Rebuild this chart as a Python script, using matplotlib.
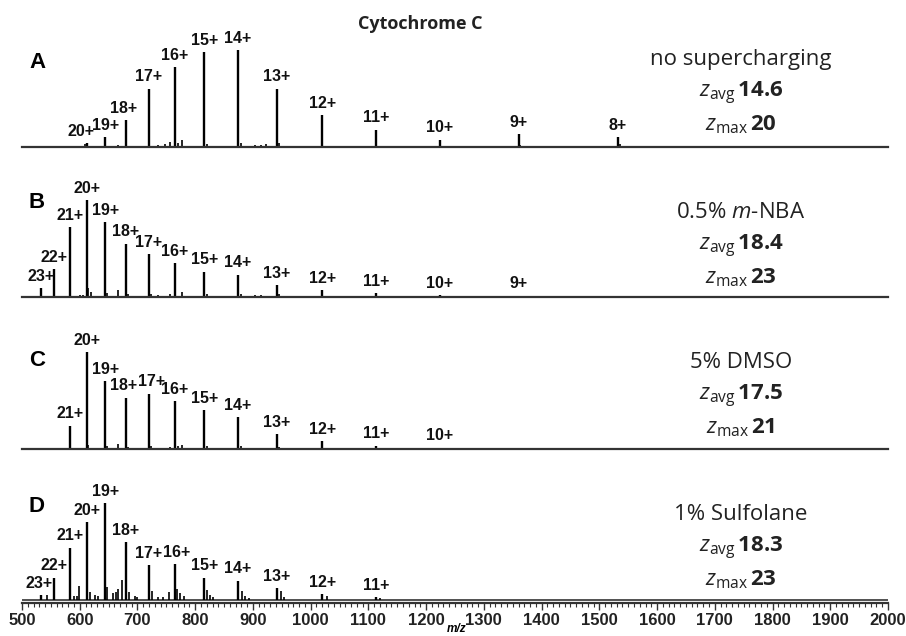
import matplotlib
matplotlib.use("Agg")
import matplotlib.pyplot as plt
from matplotlib.ticker import MultipleLocator

plt.rcParams["mathtext.fontset"] = "custom"
plt.rcParams["mathtext.rm"] = "Open Sans"
plt.rcParams["mathtext.it"] = "Open Sans:italic"
plt.rcParams["mathtext.bf"] = "Open Sans:bold"

# charge state -> m/z
charges = [23, 22, 21, 20, 19, 18, 17, 16, 15, 14, 13, 12, 11, 10, 9, 8]
peak_mz = [533, 555, 583, 612, 644, 680, 720, 765, 816, 874, 941, 1020, 1113, 1224, 1360, 1532]

# relative intensity (%) of the labelled charge states
a_charges = [20, 19, 18, 17, 16, 15, 14, 13, 12, 11, 10, 9, 8]
a_int = [4, 10, 28, 60, 82, 98, 100, 60, 33, 18, 7.5, 13, 10]
b_charges = [23, 22, 21, 20, 19, 18, 17, 16, 15, 14, 13, 12, 11, 10, 9]
b_int = [9, 29, 72, 100, 77, 55, 44, 35, 26, 23, 12, 7, 4, 2, 1.5]
c_charges = [21, 20, 19, 18, 17, 16, 15, 14, 13, 12, 11, 10]
c_int = [24, 100, 70, 53, 57, 49, 40, 33, 15, 8, 3.5, 1.5]
d_charges = [23, 22, 21, 20, 19, 18, 17, 16, 15, 14, 13, 12, 11]
d_int = [5, 23, 54, 80, 100, 60, 36, 37, 23, 20, 12, 6, 3]

# small unlabelled peaks (adducts etc.)
a_minor_mz = [609, 667, 736, 748, 756, 771, 777, 820, 880, 903, 914, 922, 946, 1363, 1535]
a_minor_int = [3, 2, 2.5, 3, 5, 4, 7, 3, 4, 2, 2.5, 3, 4, 2.5, 3]
b_minor_mz = [600, 606, 615, 619, 648, 667, 684, 724, 736, 756, 777, 820, 880, 903, 914, 946]
b_minor_int = [2, 2, 9, 5, 4, 7, 3, 3, 2, 3, 5, 3, 3, 2, 2, 3]
c_minor_mz = [615, 648, 667, 684, 724, 756, 771, 777, 820, 880, 946]
c_minor_int = [4, 3, 5, 2, 3, 2, 3, 4, 3, 3, 2]
d_minor_mz = [543, 590, 596, 599, 617, 626, 632, 648, 658, 663, 667, 673, 685, 696, 700,
              725, 735, 745, 755, 769, 774, 780, 820, 825, 831, 881, 886, 893, 949, 954,
              1028, 1120]
d_minor_int = [5, 4, 4, 14, 8, 5, 4, 13, 7, 8, 11, 21, 8, 4, 3,
               9, 3, 3, 8, 11, 7, 4, 10, 5, 3, 9, 4, 2, 9, 3,
               4.5, 2]

panel_letters = ["A", "B", "C", "D"]
conditions = ["no supercharging", "0.5% $\\mathit{m}$-NBA", "5% DMSO", "1% Sulfolane"]
z_avg = ["14.6", "18.4", "17.5", "18.3"]
z_max = ["20", "23", "21", "23"]

panels = [
    (a_charges, a_int, a_minor_mz, a_minor_int),
    (b_charges, b_int, b_minor_mz, b_minor_int),
    (c_charges, c_int, c_minor_mz, c_minor_int),
    (d_charges, d_int, d_minor_mz, d_minor_int),
]

# label nudges (points) where the reference shifts a label sideways
nudge = {(0, 20): -4, (0, 18): -1.5, (3, 23): -1.5, (3, 16): 1.5,
         (2, 18): -2, (2, 17): 1.5}

W, H = 906, 636
fig = plt.figure(figsize=(W / 100, H / 100), dpi=100)

baselines = [147, 297, 449, 600]      # pixel rows of the spectrum baselines
cond_y = [60, 213, 363, 515]
letter_y = [63, 203, 360, 507]
left, right = 22, 888
peak_h = 97

mz_of = dict(zip(charges, peak_mz))

for i, (chs, ints, mmz, mint) in enumerate(panels):
    last = i == 3
    if last:
        bottom_px = baselines[i] + 3
        ax = fig.add_axes([left / W, 1 - bottom_px / H, (right - left) / W, (peak_h + 3) / H])
        ax.set_ylim(-3, 100)
        ax.axhline(0, color="#333333", lw=1.2)
    else:
        ax = fig.add_axes([left / W, 1 - baselines[i] / H, (right - left) / W, peak_h / H])
        ax.set_ylim(0, 100)
    ax.set_xlim(500, 2000)
    ax.patch.set_alpha(0)
    for s in ["top", "left", "right"]:
        ax.spines[s].set_visible(False)
    ax.spines["bottom"].set_color("#333333")
    ax.spines["bottom"].set_linewidth(1.6)
    ax.set_yticks([])

    xs = [mz_of[c] for c in chs]
    ax.vlines(mmz, 0, mint, color="black", lw=1.2)
    ax.vlines(xs, 0, ints, color="black", lw=1.7)
    for c, x, y in zip(chs, xs, ints):
        ax.annotate(f"{c}+", (x, y), xytext=(nudge.get((i, c), 0), 8.5),
                    textcoords="offset points", ha="center", va="center",
                    fontsize=11.5, fontweight="bold", family="Liberation Sans",
                    color="#111111", annotation_clip=False)

    if last:
        ax.xaxis.set_major_locator(MultipleLocator(100))
        ax.xaxis.set_minor_locator(MultipleLocator(10))
        ax.tick_params(axis="x", which="major", direction="out", length=5, width=1,
                       color="#333333", pad=2)
        ax.tick_params(axis="x", which="minor", direction="out", length=3, width=0.8,
                       color="#333333")
        for lab in ax.get_xticklabels():
            lab.set_fontweight("bold")
            lab.set_fontsize(12)
            lab.set_family("Liberation Sans")
            lab.set_color("#222222")
    else:
        ax.set_xticks([])

    fig.text(37 / W, 1 - letter_y[i] / H, panel_letters[i], ha="center", va="center",
             fontsize=16, fontweight="bold", family="Liberation Sans")
    fig.text(741 / W, 1 - cond_y[i] / H, conditions[i], ha="center", va="center",
             fontsize=16, family="Open Sans", color="#222222")
    fig.text(741 / W, 1 - (cond_y[i] + 33) / H,
             r"$\mathit{z}_{\mathrm{avg}}\,\mathbf{" + z_avg[i] + "}$",
             ha="center", va="center", fontsize=16, color="#222222")
    fig.text(741 / W, 1 - (cond_y[i] + 65) / H,
             r"$\mathit{z}_{\mathrm{max}}\,\mathbf{" + z_max[i] + "}$",
             ha="center", va="center", fontsize=16, color="#222222")

fig.text(420 / W, 1 - 24 / H, "Cytochrome C", ha="center", va="center",
         fontsize=13, fontweight="bold", family="Open Sans", color="#222222")
fig.text(457 / W, 1 / H, "m/z", ha="center", va="bottom", fontsize=8.5,
         fontweight="bold", style="italic", family="Liberation Sans")

fig.savefig("out.png", dpi=100)
